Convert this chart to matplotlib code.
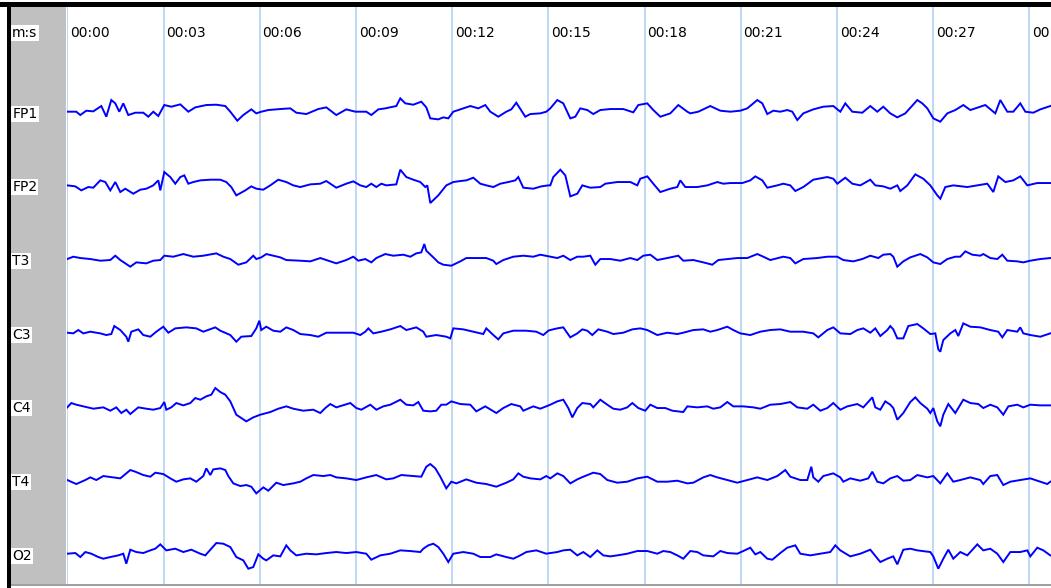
import numpy as np
import matplotlib.pyplot as plt
from matplotlib.patches import Rectangle

# screen geometry of the recording window
W, H = 1051, 588
FS = 32.07          # samples per second (one sample per screen pixel)
CH_GAP = 221        # vertical spacing between channel baselines (uV)

CHANNELS = ["FP1", "FP2", "T3", "C3", "C4", "T4", "O2"]
TICK_SECONDS = np.arange(0, 31, 3)
TIME_LABELS = ["00:00", "00:03", "00:06", "00:09", "00:12", "00:15",
               "00:18", "00:21", "00:24", "00:27", "00:30"]

# traces: sample index / amplitude (uV) pairs
FP1_N = [0, 9, 13, 19, 26, 34, 39, 44, 48, 52, 56, 61, 68, 76, 81, 86, 91, 97, 104, 113,
         121, 128, 139, 149, 158, 163, 170, 176, 184, 189, 194, 201, 213, 223, 229, 239, 251, 259, 269, 279,
         288, 299, 304, 311, 318, 326, 329, 333, 338, 346, 354, 359, 363, 371, 376, 381, 386, 396, 403, 411,
         418, 423, 431, 439, 444, 449, 458, 463, 473, 479,
         483, 490, 496, 503, 508, 513, 520, 526, 533, 543, 556, 566, 571, 580, 586, 593, 603, 611, 620, 623,
         631, 643, 653, 663, 673, 680, 690, 695, 700, 706, 713, 720, 725, 730, 736, 746, 756, 766, 773, 778,
         785, 795, 803, 810, 816, 823, 830, 838, 850, 855, 860, 866, 873, 880, 888, 896, 903, 913, 918, 928,
         933, 940, 946, 953, 958, 966, 973, 983]
FP1_V = [0, 0, -10, 3, 1, 17, -15, 35, 25, 0, 25, -10, -3, -3, -15, 0, -13, 20, 15, 22,
         0, 13, 20, 21, 17, 0, -27, -10, 7, -5, 0, 5, 8, 10, -3, -7, 8, 13, -10, 7,
         0, 0, -10, 7, 10, 15, 17, 40, 25, 21, 30, 13, -20, -23, -17, -20, 0, 10, 17, 10,
         20, 0, -15, 0, 7, 27, -15, -7, -5, 0,
         10, 35, 25, -20, -15, 10, 5, -7, 5, 8, 8, -2, 20, 25, 5, -15, -5, 20, 0, -5,
         0, 17, 3, 0, 3, 10, 35, 25, -7, 3, 0, 5, 0, -25, -5, 7, 15, 17, 0, 25,
         0, -3, 17, 0, 15, -5, -17, -5, 35, 25, 10, -20, -30, -5, 5, 20, 5, 15, 20, -5,
         35, 0, 0, 25, 0, -3, 7, 17]

FP2_N = [0, 8, 14, 21, 26, 33, 38, 43, 48, 53, 58, 66, 73, 79, 86, 91, 93, 97, 103, 108,
         113, 117, 121, 126, 133, 143, 153, 159, 164, 169, 178, 184, 189, 196, 203, 211, 219, 226, 233, 243,
         253, 259, 269, 279, 286, 293, 299, 304, 309, 314, 319, 329, 333, 339, 346, 353, 358, 360, 363, 371,
         379, 386, 393, 399, 406, 413, 419, 426, 433, 441, 448, 451, 456, 466, 474, 481,
         483, 486, 493, 498, 503, 510, 515, 523, 533, 538, 550, 563, 570, 573, 580, 586, 593, 603, 610, 613,
         618, 630, 640, 650, 656, 663, 675, 683, 688, 695, 700, 710, 716, 723, 728, 736, 746, 760, 766, 770,
         778, 785, 793, 803, 808, 816, 823, 830, 833, 840, 848, 856, 863, 870, 873, 878, 886, 900, 910, 920,
         926, 931, 938, 946, 953, 960, 970, 983]
FP2_V = [0, -3, -15, -5, -7, 15, 10, -15, 10, -20, -10, -25, -13, -10, 0, 15, -15, 40, 25, 5,
         25, 30, 5, 10, 15, 17, 17, 10, -5, -30, -15, -3, -10, -13, 0, 17, 10, 0, -5, 3,
         5, 13, -7, 5, 12, 0, -5, 5, -5, 5, 0, 3, 47, 25, 17, 10, -5, 0, -53, -30,
         0, 10, 13, 15, 23, 5, 0, -5, 5, 10, 15, 25, -7, -10, -3, 0,
         0, 25, 47, 30, -33, -25, 0, -7, -5, 5, 10, 10, 0, 20, 27, 5, -20, -10, -5, 15,
         -5, -5, 0, 10, 5, 7, 7, 15, 27, 15, -7, 0, 5, 0, -17, -5, 17, 25, 20, 5,
         23, 5, 0, 17, 0, -3, -10, 0, -17, 0, 33, 20, 0, -30, -40, -5, 0, -5, 0, 5,
         -20, 27, 10, 15, 27, 0, 7, 7]

T3_N = [0, 6, 13, 23, 33, 43, 48, 53, 59, 63, 69, 79, 86, 93, 97, 106, 116, 126, 136, 149,
        156, 163, 171, 179, 186, 189, 194, 199, 206, 213, 219, 233, 243, 253, 259, 269, 279, 286, 291, 298,
        304, 309, 318, 326, 336, 343, 349, 354, 357, 359, 366, 371, 376, 384, 393, 399, 409, 419, 426, 429,
        436, 446, 456, 466, 473,
        483, 490, 496, 503, 510, 516, 523, 528, 533, 543, 553, 563, 570, 576, 583, 590, 600, 611, 616, 626,
        636, 645, 651, 660, 670, 680, 690, 696, 703, 716, 723, 728, 736, 750, 760, 770, 776, 786, 795, 803,
        811, 816, 823, 826, 830, 836, 843, 853, 860, 866, 873, 880, 888, 893, 898, 905, 913, 916, 923, 930,
        935, 940, 950, 956, 963, 973, 983]
T3_V = [0, 7, 3, 0, -5, -3, 10, -3, -15, -23, -10, -13, -5, -3, 10, 7, 15, 7, 10, 17,
        7, 0, -17, -10, 10, 0, 5, 15, 10, 5, -3, -5, -7, 3, -3, -13, -3, 7, -5, 0,
        -10, 3, 15, 10, 13, 7, 17, 20, 45, 25, 5, -10, -17, -20, -7, 3, 3, 3, -5, -15,
        -3, 7, 10, 7, 13,
        7, 3, 10, -3, 7, 7, 10, -17, 0, 0, -5, 3, -3, 10, 13, -3, 3, 10, -5, -3,
        -10, -17, -3, 0, 3, 3, 15, 7, -3, 7, 3, -13, 0, 3, 7, 7, -3, -7, 0, 10,
        3, 13, 15, 7, -23, -7, 5, 15, 5, -10, -15, 0, 7, 7, 23, 13, 10, 15, 3, 0,
        13, -5, -7, -10, -5, 0, 3]

C3_N = [0, 6, 11, 16, 23, 33, 39, 44, 47, 53, 59, 61, 64, 71, 76, 83, 89, 96, 101, 108,
        119, 129, 136, 148, 153, 163, 169, 174, 184, 189, 192, 194, 199, 206, 213, 219, 226, 233, 243, 251,
        259, 273, 286, 293, 298, 301, 306, 314, 323, 333, 339, 349, 356, 359, 369, 379, 383, 386, 396, 406,
        416, 419, 426, 431, 436, 446, 459, 469, 476, 481,
        483, 490, 496, 503, 510, 515, 520, 525, 531, 540, 546, 556, 565, 573, 580, 590, 600, 610, 616, 626,
        636, 643, 650, 660, 666, 673, 683, 693, 703, 713, 723, 736, 746, 751, 760, 766, 773, 783, 790, 796,
        803, 808, 813, 820, 823, 826, 830, 836, 841, 850, 856, 863, 868, 871, 873, 876, 883, 888, 891, 896,
        903, 913, 923, 931, 935, 940, 950, 953, 956, 963, 973, 983]
C3_V = [0, -2, 8, -2, 3, -2, -7, -4, 20, 8, -12, -27, 3, 10, -7, -12, 3, 18, 0, 13,
        16, 13, 3, 16, 6, -7, -27, -12, -10, 13, 36, 8, 18, 6, 3, 16, 8, -4, -7, -12,
        0, 0, 0, -7, 3, 13, -2, 3, 10, 20, 8, 16, 3, -12, -7, -12, -17, 13, 10, 3,
        -4, 13, -7, -20, -2, 6, 6, 3, -7, 6,
        8, 13, 16, -14, -2, 10, 6, -7, 10, 3, -4, 0, 10, 13, 8, -7, 0, -4, 0, 8,
        10, 3, 8, 18, 8, -2, -7, 3, 8, 10, 3, 3, -2, -14, 8, 16, -2, -4, 8, 13,
        0, 13, -10, 8, 20, 10, -17, -17, 20, 26, 13, -4, -2, -50, -57, -22, -2, 8, -10, 28,
        18, 16, 8, 3, -14, 8, 3, 16, -2, -7, -12, -2]

C4_N = [0, 4, 9, 16, 26, 36, 43, 49, 54, 59, 63, 71, 79, 86, 93, 97, 99, 104, 109, 116,
        123, 128, 133, 139, 144, 148, 153, 158, 163, 169, 179, 186, 193, 203, 211, 219, 226, 236, 246, 253,
        258, 263, 269, 283, 289, 294, 303, 309, 316, 323, 333, 339, 346, 351, 356, 363, 369, 374, 379, 384,
        393, 403, 409, 418, 429, 436, 444, 453, 456, 466, 473, 479,
        483, 490, 496, 501, 505, 510, 515, 523, 526, 533, 540, 546, 553, 560, 565, 571, 578, 583, 590, 598,
        605, 616, 620, 630, 640, 646, 653, 660, 666, 676, 686, 693, 703, 713, 723, 730, 740, 746, 753, 760,
        766, 773, 780, 790, 796, 805, 808, 813, 818, 823, 826, 830, 836, 843, 848, 853, 860, 863, 866, 870,
        873, 876, 881, 888, 896, 903, 911, 916, 923, 930, 936, 941, 950, 956, 963, 973, 983]
C4_V = [-3, 10, 5, 0, -7, -3, -13, -3, -20, -10, -23, -3, -7, -10, -5, 13, -10, -3, 10, 3,
        10, 25, 20, 30, 35, 55, 43, 35, 15, -25, -45, -33, -25, -17, -7, 0, -7, -13, -10, -20,
        -5, 7, -3, 10, -5, -10, 5, -10, 0, 5, 20, 5, 3, 13, -13, -15, -13, 5, 5, 15,
        7, 5, -15, 0, -20, -5, 7, 0, -13, 0, -7, 0,
        5, 15, 20, -5, -33, -5, 10, 7, -3, 20, 5, -7, -10, -3, 10, -5, -13, 5, -5, -5,
        -13, -17, 0, -3, 0, -7, -3, 13, 0, 0, -3, -7, 5, 7, 13, -3, -7, 5, -13, -5,
        10, -10, 0, 7, -3, 27, -3, -10, 15, 5, -5, -40, -20, 13, 27, 10, -7, -20, -5, -45,
        -60, -25, 7, -20, 20, 10, 7, -5, 5, -3, -25, 0, 5, -3, 5, 3, 3]

T4_N = [0, 9, 18, 23, 29, 36, 46, 53, 63, 68, 76, 83, 88, 96, 103, 109, 116, 123, 129, 136,
        139, 143, 146, 153, 158, 161, 166, 173, 179, 184, 189, 196, 201, 209, 216, 226, 233, 239, 246, 256,
        263, 269, 279, 289, 299, 309, 319, 326, 334, 346, 354, 359, 363, 368, 373, 379, 384, 389, 399, 409,
        419, 429, 439, 446, 451, 456, 463, 473, 479,
        483, 490, 496, 503, 510, 516, 526, 533, 540, 550, 560, 570, 580, 590, 600, 610, 620, 626, 636, 643,
        650, 660, 670, 680, 690, 700, 710, 718, 723, 733, 740, 744, 746, 751, 756, 766, 773, 776, 783, 793,
        801, 805, 810, 816, 823, 830, 836, 843, 850, 860, 866, 873, 880, 886, 893, 903, 913, 916, 923, 930,
        936, 943, 953, 963, 973, 980, 983]
T4_V = [0, -12, 0, 8, 0, 12, 8, 5, 30, 25, 15, 10, 22, 18, 5, -5, 2, 5, -5, 12,
        35, 15, 32, 35, 30, 12, -10, -18, -15, -20, -40, -22, -32, -8, -15, -10, -5, 5, 15, 12,
        15, 8, 5, 0, 8, 15, 2, 5, 15, 12, 10, 40, 48, 35, 10, -25, -5, -10, 2, -8,
        -12, -20, -8, 2, 20, 10, 5, 2, 12,
        5, 20, 12, -10, 2, 10, 22, 18, 0, -8, -5, 5, 10, -5, -5, -2, -10, -8, 8, 15,
        8, 0, -8, 0, 8, 0, 12, 30, 10, 0, 0, 40, 8, -5, 12, 20, 8, -5, 5, -2,
        5, 25, -5, -10, 5, 12, -2, 0, 15, 8, 12, -10, 20, -5, 0, 8, 0, -12, 12, 15,
        -15, -5, 0, 5, -5, -12, -5]

O2_N = [0, 8, 13, 18, 24, 31, 36, 43, 51, 56, 59, 63, 69, 76, 83, 88, 93, 99, 108, 116,
        124, 133, 138, 143, 149, 156, 163, 169, 176, 181, 186, 191, 196, 199, 206, 213, 219, 223, 229, 239,
        249, 259, 269, 279, 289, 299, 304, 313, 323, 333, 343, 353, 356, 361, 366, 371, 376, 381, 386, 396,
        406, 413, 423, 429, 439, 446, 453, 459, 469, 479,
        483, 490, 496, 503, 510, 516, 523, 530, 536, 543, 550, 560, 570, 580, 590, 596, 603, 610, 616, 623,
        630, 636, 646, 653, 660, 670, 676, 683, 688, 693, 700, 705, 713, 720, 728, 733, 743, 753, 763, 768,
        773, 783, 793, 803, 813, 820, 826, 830, 836, 843, 850, 863, 866, 871, 876, 881, 886, 893, 900, 910,
        916, 923, 930, 936, 943, 953, 960, 963, 970, 976, 983]
O2_V = [0, 2, -10, 5, 0, -10, -15, -10, -5, 0, -30, 12, 5, 2, 10, 15, 28, 10, 15, 5,
        12, 0, -5, 12, 32, 30, 20, -10, -20, -45, -40, -2, -15, -20, -5, -8, 25, 10, -5, 0,
        -2, 2, 5, 2, 5, 0, -18, -5, 0, 10, 8, 5, 15, 25, 30, 20, 0, -25, 0, 5,
        0, -10, -10, -2, -10, -15, -5, 5, 10, 0,
        2, 5, 10, 12, -5, 5, -10, 10, -5, -8, -5, 0, 8, 8, 0, 8, 5, -5, -15, 8,
        5, -5, -8, 8, 2, 0, 8, 18, -2, 5, -15, -18, 2, 18, 25, 0, -5, 0, 5, 25,
        10, -8, 0, 12, -25, -15, -8, -32, 12, 15, 10, 5, -8, -45, -15, 12, -15, 5, -5, 28,
        10, 15, 0, -25, 5, 5, 10, -8, 18, 10, -5]

TRACES = [(FP1_N, FP1_V), (FP2_N, FP2_V), (T3_N, T3_V), (C3_N, C3_V),
          (C4_N, C4_V), (T4_N, T4_V), (O2_N, O2_V)]

TRACE_COLOR = "#0000FF"
GRID_COLOR = "#B3D1F2"
PANEL_COLOR = "#C0C0C0"


def add_px_rect(fig, x0, y0, x1, y1, color):
    # rectangle given in screen pixels (origin top-left)
    fig.patches.append(Rectangle((x0 / W, 1 - y1 / H), (x1 - x0) / W, (y1 - y0) / H,
                                 transform=fig.transFigure, facecolor=color,
                                 edgecolor="none", zorder=5))


def main():
    fig = plt.figure(figsize=(W / 100, H / 100), dpi=100)
    fig.patch.set_facecolor("white")

    top, bottom = 7, 584
    y_top = 111.7 * 3 - top * 3
    y_bottom = 111.7 * 3 - bottom * 3
    ax_rect = [67 / W, 1 - bottom / H, (W - 67) / W, (bottom - top) / H]
    ax = fig.add_axes(ax_rect)
    ax.set_xlim(-0.3 / FS, (W - 67.3) / FS)
    ax.set_ylim(y_bottom, y_top)
    ax.set_axis_off()

    for t in TICK_SECONDS:
        ax.axvline(t, color=GRID_COLOR, lw=1.2, zorder=1)
    for t, lab in zip(TICK_SECONDS, TIME_LABELS):
        ax.text(t + 2.7 / FS, 236, lab, fontsize=10, family="DejaVu Sans",
                ha="left", va="center", color="black", clip_on=True, zorder=3)

    for k, (n, v) in enumerate(TRACES):
        t = np.asarray(n) / FS
        ax.plot(t, np.asarray(v) - k * CH_GAP, color=TRACE_COLOR, lw=1.4,
                solid_joinstyle="miter", zorder=2)

    # grey channel-name panel
    pan = fig.add_axes([11 / W, 1 - bottom / H, 55 / W, (bottom - top) / H])
    pan.set_facecolor(PANEL_COLOR)
    pan.set_ylim(y_bottom, y_top)
    pan.set_xlim(0, 55)
    pan.set_xticks([])
    pan.set_yticks([])
    for s in pan.spines.values():
        s.set_visible(False)
    box = dict(boxstyle="square,pad=0.08", facecolor="white", edgecolor="none")
    pan.text(1.2, 236, "m:s", fontsize=10, family="DejaVu Sans", ha="left",
             va="center", bbox=box)
    for k, name in enumerate(CHANNELS):
        pan.text(1.2, -k * CH_GAP - 6, name, fontsize=10, family="DejaVu Sans",
                 ha="left", va="center", bbox=box)

    # window frame
    add_px_rect(fig, 0, 2, W, 7, "black")
    add_px_rect(fig, 7, 2, 11, H, "black")
    add_px_rect(fig, 11, 584, W, 586, "#A0A0A0")

    fig.savefig("out.png", dpi=100)


if __name__ == "__main__":
    main()
